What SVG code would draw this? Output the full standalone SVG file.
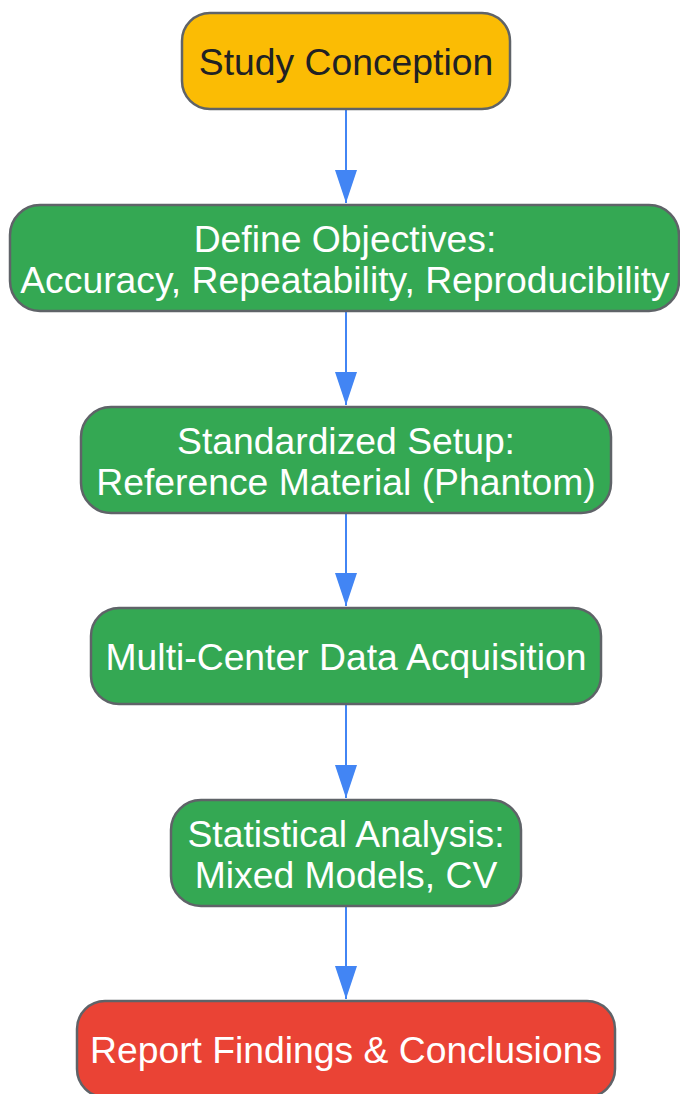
<svg xmlns="http://www.w3.org/2000/svg" width="680" height="1094" viewBox="0 0 680 1094">
<defs>
<style>
.node rect{stroke:#5f6368;stroke-width:2.5}
.yellow{fill:#fbbc04}
.green{fill:#34a853}
.red{fill:#ea4335}
text{font-family:"Liberation Sans",Arial,sans-serif;font-size:37.3px;text-anchor:middle}
.dark{fill:#202124}
.light{fill:#ffffff}
.edge{stroke:#4285f4;stroke-width:2;fill:none;marker-end:url(#arrow)}
</style>
<marker id="arrow" markerWidth="33" markerHeight="22" refX="33" refY="11" orient="auto" markerUnits="userSpaceOnUse" viewBox="0 0 33 22">
<path d="M0,0 L33,11 L0,22 Z" fill="#4285f4"/>
</marker>
</defs>
<rect width="680" height="1094" fill="#ffffff"/>
<g id="connectors">
<line class="edge" x1="346" y1="110" x2="346" y2="203"/>
<line class="edge" x1="346" y1="312" x2="346" y2="405"/>
<line class="edge" x1="346" y1="514" x2="346" y2="606"/>
<line class="edge" x1="346" y1="705" x2="346" y2="798"/>
<line class="edge" x1="346" y1="907" x2="346" y2="999"/>
</g>
<g id="study-conception" class="node">
<rect class="yellow" x="182" y="13" width="328" height="96" rx="28"/>
<text class="dark" x="346" y="75">Study Conception</text>
</g>
<g id="define-objectives" class="node">
<rect class="green" x="10" y="205" width="669" height="106" rx="30"/>
<text class="light" x="345" y="252">Define Objectives:</text>
<text class="light" x="345" y="293">Accuracy, Repeatability, Reproducibility</text>
</g>
<g id="standardized-setup" class="node">
<rect class="green" x="81" y="407" width="530" height="106" rx="30"/>
<text class="light" x="346" y="454">Standardized Setup:</text>
<text class="light" x="346" y="495">Reference Material (Phantom)</text>
</g>
<g id="data-acquisition" class="node">
<rect class="green" x="91" y="608" width="510" height="96" rx="28"/>
<text class="light" x="346" y="670">Multi-Center Data Acquisition</text>
</g>
<g id="statistical-analysis" class="node">
<rect class="green" x="171" y="800" width="350" height="106" rx="30"/>
<text class="light" x="346" y="847">Statistical Analysis:</text>
<text class="light" x="346" y="888">Mixed Models, CV</text>
</g>
<g id="report-findings" class="node">
<rect class="red" x="77" y="1001" width="538" height="96" rx="28"/>
<text class="light" x="346" y="1063">Report Findings &amp; Conclusions</text>
</g>
</svg>
